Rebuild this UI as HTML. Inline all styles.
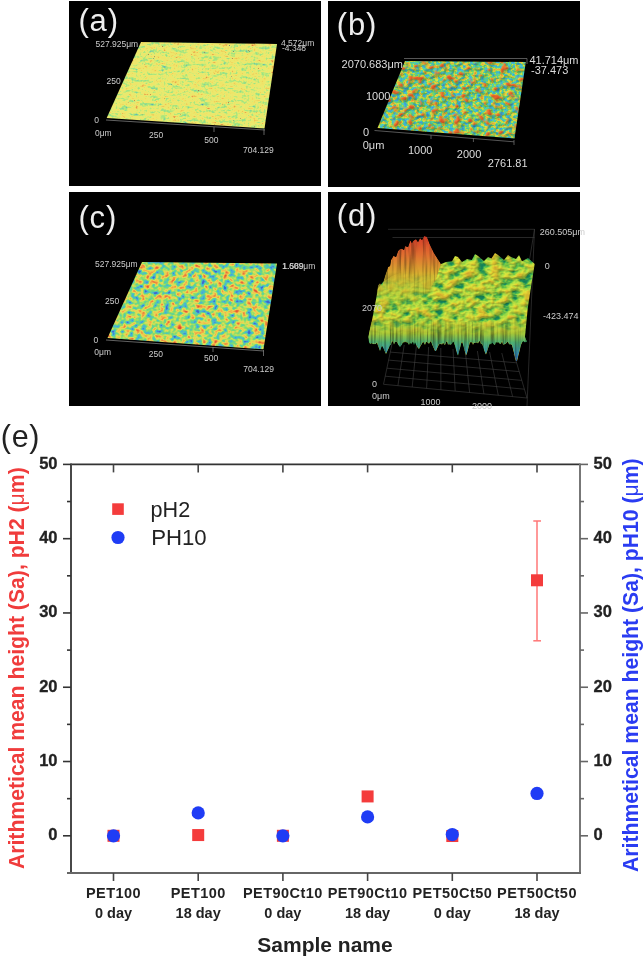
<!DOCTYPE html>
<html><head><meta charset="utf-8">
<style>
html,body{margin:0;padding:0;background:#fff;width:644px;height:959px;overflow:hidden}
svg{display:block;filter:blur(0.45px)}
text{font-family:"Liberation Sans",sans-serif}
</style></head><body>
<svg width="644" height="959" viewBox="0 0 644 959">
<defs>
<filter id="fa" x="0" y="0" width="1" height="1" color-interpolation-filters="sRGB">
<feTurbulence type="fractalNoise" baseFrequency="0.1 0.3" numOctaves="2" seed="7"/>
<feColorMatrix type="matrix" values="1 0 0 0 0  1 0 0 0 0  1 0 0 0 0  0 0 0 0 1" result="n1"/>
<feTurbulence type="fractalNoise" baseFrequency="0.5" numOctaves="1" seed="11"/>
<feColorMatrix type="matrix" values="1 0 0 0 0  1 0 0 0 0  1 0 0 0 0  0 0 0 0 1" result="n2"/>
<feComposite in="n1" in2="n2" operator="arithmetic" k2="0.6" k3="0.4" result="n"/>
<feColorMatrix in="n" type="matrix" values="1.176 0 0 0 -0.028  1.176 0 0 0 -0.028  1.176 0 0 0 -0.028  0 0 0 0 1"/>
<feComponentTransfer result="col"><feFuncR type="table" tableValues="0.251 0.255 0.260 0.264 0.268 0.273 0.277 0.281 0.322 0.371 0.420 0.469 0.518 0.567 0.605 0.629 0.653 0.676 0.714 0.773 0.831 0.875 0.918 0.922 0.925 0.929 0.933 0.937 0.941 0.941 0.941 0.941 0.929 0.913 0.897 0.882 0.837 0.784 0.732 0.680 0.627"/><feFuncG type="table" tableValues="0.314 0.331 0.349 0.366 0.383 0.401 0.418 0.436 0.518 0.616 0.714 0.776 0.816 0.855 0.882 0.889 0.897 0.905 0.911 0.914 0.918 0.918 0.918 0.914 0.910 0.906 0.902 0.898 0.894 0.860 0.825 0.791 0.728 0.657 0.587 0.516 0.450 0.384 0.319 0.254 0.188"/><feFuncB type="table" tableValues="0.439 0.465 0.492 0.518 0.544 0.570 0.596 0.622 0.643 0.663 0.682 0.661 0.612 0.563 0.529 0.517 0.505 0.493 0.481 0.468 0.455 0.447 0.439 0.434 0.429 0.424 0.418 0.413 0.408 0.388 0.369 0.349 0.333 0.317 0.301 0.285 0.256 0.224 0.191 0.158 0.125"/></feComponentTransfer>
<feTurbulence type="fractalNoise" baseFrequency="0.55" numOctaves="1" seed="21"/>
<feColorMatrix type="matrix" values="0 0 0 0 0.25  0 0 0 0 0.35  0 0 0 0 0.5  12 0 0 0 -9.1" result="dots"/>
<feTurbulence type="fractalNoise" baseFrequency="0.5" numOctaves="1" seed="33"/>
<feColorMatrix type="matrix" values="0 0 0 0 0.7  0 0 0 0 0.35  0 0 0 0 0.25  12 0 0 0 -9.4" result="dots2"/>
<feMerge><feMergeNode in="col"/><feMergeNode in="dots"/><feMergeNode in="dots2"/></feMerge>
<feGaussianBlur stdDeviation="0.45"/>
<feComposite in2="SourceAlpha" operator="in"/>
</filter>
<filter id="fb" x="0" y="0" width="1" height="1" color-interpolation-filters="sRGB">
<feTurbulence type="fractalNoise" baseFrequency="0.26 0.32" numOctaves="2" seed="3" result="n"/>
<feColorMatrix in="n" type="matrix" values="0.932 0 0 0 0.034  0.932 0 0 0 0.034  0.932 0 0 0 0.034  0 0 0 0 1" result="g"/>
<feComponentTransfer in="g" result="c"><feFuncR type="table" tableValues="0.220 0.222 0.225 0.227 0.230 0.233 0.235 0.238 0.241 0.243 0.246 0.248 0.251 0.251 0.251 0.251 0.269 0.291 0.314 0.361 0.408 0.512 0.617 0.688 0.737 0.786 0.824 0.843 0.863 0.878 0.878 0.878 0.878 0.878 0.878 0.878 0.878 0.878 0.878 0.878 0.878"/><feFuncG type="table" tableValues="0.471 0.484 0.497 0.510 0.523 0.536 0.549 0.562 0.575 0.588 0.601 0.614 0.627 0.657 0.686 0.716 0.731 0.742 0.753 0.769 0.784 0.797 0.810 0.813 0.808 0.803 0.782 0.738 0.694 0.655 0.639 0.622 0.605 0.588 0.571 0.555 0.538 0.521 0.504 0.487 0.471"/><feFuncB type="table" tableValues="0.722 0.727 0.732 0.737 0.742 0.748 0.753 0.758 0.763 0.769 0.774 0.779 0.784 0.775 0.765 0.755 0.699 0.632 0.565 0.471 0.376 0.337 0.298 0.276 0.267 0.257 0.247 0.237 0.227 0.219 0.216 0.213 0.211 0.208 0.205 0.202 0.199 0.197 0.194 0.191 0.188"/></feComponentTransfer>
<feTurbulence type="fractalNoise" baseFrequency="0.13 0.17" numOctaves="2" seed="8" result="nb"/>
<feColorMatrix in="nb" type="matrix" values="1 0 0 0 0  1 0 0 0 0  1 0 0 0 0  0 0 0 0 1" result="nbg"/>
<feComponentTransfer in="nbg" result="bc"><feFuncR type="table" tableValues="0.816 0.816 0.816 0.816 0.816 0.816 0.816 0.816 0.816 0.816 0.816 0.816 0.816 0.816 0.816 0.816 0.816 0.816 0.816 0.816 0.816 0.816 0.816 0.847 0.878 0.885 0.892 0.889 0.881 0.872 0.864 0.855 0.847 0.835 0.824 0.812 0.800 0.788 0.776 0.765 0.753"/><feFuncG type="table" tableValues="0.784 0.784 0.784 0.784 0.784 0.784 0.784 0.784 0.784 0.784 0.784 0.784 0.784 0.784 0.784 0.784 0.784 0.784 0.784 0.784 0.784 0.784 0.784 0.722 0.659 0.593 0.528 0.485 0.457 0.429 0.401 0.373 0.345 0.333 0.322 0.310 0.298 0.286 0.275 0.263 0.251"/><feFuncB type="table" tableValues="0.251 0.251 0.251 0.251 0.251 0.251 0.251 0.251 0.251 0.251 0.251 0.251 0.251 0.251 0.251 0.251 0.251 0.251 0.251 0.251 0.251 0.251 0.251 0.235 0.220 0.207 0.193 0.185 0.179 0.174 0.168 0.162 0.157 0.153 0.149 0.145 0.141 0.137 0.133 0.129 0.125"/></feComponentTransfer>
<feColorMatrix in="nb" type="matrix" values="0 0 0 0 0  0 0 0 0 0  0 0 0 0 0  6 0 0 0 -3.3" result="ba"/>
<feComposite in="bc" in2="ba" operator="in" result="blob"/>
<feMerge result="m"><feMergeNode in="c"/><feMergeNode in="blob"/></feMerge>
<feColorMatrix in="nb" type="matrix" values="0 0 0 0 0  0 0 0 0 0  0 0 0 0 0  2.5 0 0 0 -0.9" result="h"/>
<feDiffuseLighting in="h" surfaceScale="3" diffuseConstant="1" lighting-color="#fff" result="l">
<feDistantLight azimuth="225" elevation="55"/>
</feDiffuseLighting>
<feComposite in="m" in2="l" operator="arithmetic" k1="0.3" k2="0.8" result="s"/>
<feGaussianBlur stdDeviation="0.45"/>
<feComposite in2="SourceAlpha" operator="in"/>
</filter>
<filter id="fc" x="0" y="0" width="1" height="1" color-interpolation-filters="sRGB">
<feTurbulence type="fractalNoise" baseFrequency="0.17 0.2" numOctaves="2" seed="5" result="n"/>
<feColorMatrix in="n" type="matrix" values="0.847 0 0 0 0.076  0.847 0 0 0 0.076  0.847 0 0 0 0.076  0 0 0 0 1"/>
<feComponentTransfer><feFuncR type="table" tableValues="0.188 0.195 0.201 0.207 0.213 0.220 0.226 0.232 0.238 0.245 0.251 0.262 0.273 0.285 0.298 0.311 0.356 0.408 0.476 0.567 0.659 0.750 0.842 0.894 0.920 0.941 0.941 0.941 0.941 0.922 0.902 0.882 0.867 0.853 0.839 0.824 0.810 0.796 0.781 0.767 0.753"/><feFuncG type="table" tableValues="0.282 0.298 0.314 0.329 0.345 0.361 0.376 0.392 0.408 0.424 0.439 0.529 0.618 0.698 0.737 0.776 0.805 0.831 0.852 0.865 0.878 0.878 0.878 0.855 0.816 0.771 0.702 0.633 0.565 0.496 0.427 0.359 0.331 0.313 0.295 0.277 0.260 0.242 0.224 0.206 0.188"/><feFuncB type="table" tableValues="0.690 0.703 0.715 0.728 0.740 0.753 0.765 0.778 0.791 0.803 0.816 0.827 0.838 0.837 0.784 0.732 0.648 0.557 0.481 0.429 0.376 0.363 0.350 0.337 0.324 0.310 0.290 0.271 0.251 0.241 0.231 0.222 0.211 0.200 0.190 0.179 0.168 0.158 0.147 0.136 0.125"/></feComponentTransfer>
<feGaussianBlur stdDeviation="0.5"/>
<feComposite in2="SourceAlpha" operator="in"/>
</filter>
<filter id="fd" x="0" y="0" width="1" height="1" color-interpolation-filters="sRGB">
<feTurbulence type="fractalNoise" baseFrequency="0.09 0.14" numOctaves="3" seed="9" result="n"/>
<feColorMatrix in="n" type="matrix" values="0.975 0 0 0 0.053  0.975 0 0 0 0.053  0.975 0 0 0 0.053  0 0 0 0 1" result="g"/>
<feComponentTransfer in="g" result="c"><feFuncR type="table" tableValues="0.047 0.051 0.055 0.059 0.063 0.067 0.071 0.075 0.078 0.082 0.086 0.090 0.094 0.157 0.220 0.282 0.345 0.424 0.502 0.580 0.627 0.667 0.706 0.739 0.769 0.798 0.819 0.827 0.835 0.842 0.845 0.839 0.833 0.827 0.821 0.814 0.808 0.802 0.796 0.790 0.784"/><feFuncG type="table" tableValues="0.376 0.390 0.403 0.416 0.429 0.442 0.455 0.468 0.481 0.494 0.507 0.520 0.533 0.580 0.627 0.675 0.722 0.751 0.780 0.810 0.824 0.833 0.843 0.847 0.847 0.847 0.838 0.814 0.791 0.767 0.747 0.732 0.717 0.702 0.687 0.671 0.656 0.641 0.626 0.611 0.596"/><feFuncB type="table" tableValues="0.282 0.288 0.294 0.300 0.306 0.312 0.318 0.324 0.329 0.335 0.341 0.347 0.353 0.335 0.318 0.300 0.282 0.273 0.263 0.253 0.251 0.251 0.251 0.245 0.235 0.225 0.216 0.209 0.201 0.193 0.188 0.188 0.188 0.188 0.188 0.188 0.188 0.188 0.188 0.188 0.188"/></feComponentTransfer>
<feColorMatrix in="n" type="matrix" values="0 0 0 0 0  0 0 0 0 0  0 0 0 0 0  2.5 0 0 0 -0.75" result="h"/>
<feDiffuseLighting in="h" surfaceScale="3" diffuseConstant="1" lighting-color="#fff" result="l">
<feDistantLight azimuth="235" elevation="55"/>
</feDiffuseLighting>
<feComposite in="c" in2="l" operator="arithmetic" k1="0.35" k2="0.72" result="s"/>
<feGaussianBlur stdDeviation="0.4"/>
<feComposite in2="SourceAlpha" operator="in"/>
</filter>
<filter id="fw" x="0" y="0" width="1" height="1" color-interpolation-filters="sRGB">
<feTurbulence type="fractalNoise" baseFrequency="0.35 0.025" numOctaves="2" seed="4" result="n"/>
<feColorMatrix in="n" type="matrix" values="0.9 0 0 0 0.5  0.9 0 0 0 0.5  0.9 0 0 0 0.5  0 0 0 0 1" result="m"/>
<feComposite in="SourceGraphic" in2="m" operator="arithmetic" k1="1" result="s"/>
<feGaussianBlur stdDeviation="0.4"/>
<feComposite in2="SourceAlpha" operator="in"/>
</filter>
<linearGradient id="gr" gradientUnits="userSpaceOnUse" x1="0" y1="236" x2="0" y2="300">
<stop offset="0" stop-color="#d83c28"/>
<stop offset="0.3" stop-color="#e07030"/>
<stop offset="0.6" stop-color="#d8b030"/>
<stop offset="1" stop-color="#b8d038"/>
</linearGradient>
<linearGradient id="gc" gradientUnits="userSpaceOnUse" x1="0" y1="318" x2="0" y2="362">
<stop offset="0" stop-color="#c0d038"/>
<stop offset="0.35" stop-color="#a8c838"/>
<stop offset="0.55" stop-color="#50b070"/>
<stop offset="0.8" stop-color="#3898b8"/>
<stop offset="1" stop-color="#3870c8"/>
</linearGradient>
<filter id="fs" x="0" y="0" width="1" height="1" color-interpolation-filters="sRGB">
<feTurbulence type="fractalNoise" baseFrequency="0.45 0.02" numOctaves="2" seed="12" result="n"/>
<feColorMatrix in="n" type="matrix" values="1.1 0 0 0 0.35  1.1 0 0 0 0.35  1.1 0 0 0 0.35  0 0 0 0 1" result="m"/>
<feComposite in="SourceGraphic" in2="m" operator="arithmetic" k1="1" result="s"/>
<feGaussianBlur stdDeviation="0.35"/>
<feComposite in2="SourceAlpha" operator="in"/>
</filter>
<linearGradient id="gmc" gradientUnits="userSpaceOnUse" x1="0" y1="316" x2="0" y2="336">
<stop offset="0" stop-color="#000"/>
<stop offset="1" stop-color="#fff"/>
</linearGradient>
<mask id="mc" maskUnits="userSpaceOnUse" x="328" y="192" width="252" height="214"><rect x="328" y="192" width="252" height="214" fill="url(#gmc)"/></mask>
<linearGradient id="gmw" gradientUnits="userSpaceOnUse" x1="0" y1="272" x2="0" y2="312">
<stop offset="0" stop-color="#fff"/>
<stop offset="1" stop-color="#000"/>
</linearGradient>
<mask id="mw" maskUnits="userSpaceOnUse" x="328" y="192" width="252" height="214"><rect x="328" y="192" width="252" height="214" fill="url(#gmw)"/></mask>
<linearGradient id="gs" x1="0" y1="0" x2="0" y2="1">
<stop offset="0" stop-color="#a0c840"/>
<stop offset="0.45" stop-color="#30a888"/>
<stop offset="1" stop-color="#3878c8"/>
</linearGradient>
</defs>
<rect x="69" y="1" width="252" height="185" fill="#000"/>
<rect x="328" y="1" width="252" height="186" fill="#000"/>
<rect x="69" y="192" width="252" height="214" fill="#000"/>
<rect x="328" y="192" width="252" height="214" fill="#000"/>
<polygon points="141,42 277,43.9 264.5,128.5 106.7,118" fill="#fff" filter="url(#fa)"/>
<g stroke="#999" stroke-width="0.8" fill="none" opacity="0.8">
<line x1="106" y1="120" x2="265" y2="130"/>
<line x1="264" y1="129" x2="264" y2="135"/>
<line x1="214" y1="127" x2="214" y2="132"/>
</g>
<g font-size="8.5" fill="#ccc">
<text x="95.5" y="46.5">527.925μm</text>
<text x="106.5" y="84">250</text>
<text x="94.3" y="123">0</text>
<text x="95" y="136">0μm</text>
<text x="149" y="138">250</text>
<text x="204.3" y="143.4">500</text>
<text x="243" y="152.6">704.129</text>
<text x="281" y="46">4.572μm</text>
<text x="282" y="51">-4.348</text>
</g>
<polygon points="405,61 525.8,62 514.5,138.5 377.5,128" fill="#fff" filter="url(#fb)"/>
<g stroke="#888" stroke-width="0.8" fill="none" opacity="0.8">
<line x1="404" y1="58.5" x2="527" y2="58.5"/>
<line x1="527" y1="58.5" x2="527" y2="64"/>
<line x1="374.5" y1="130.5" x2="514" y2="141.8"/>
<line x1="514" y1="140" x2="514" y2="145"/>
<line x1="473.4" y1="138" x2="473.4" y2="142"/>
<line x1="431" y1="135" x2="431" y2="139"/>
</g>
<g font-size="11" fill="#ddd">
<text x="341.6" y="68.4">2070.683μm</text>
<text x="366" y="100">1000</text>
<text x="363" y="135.5">0</text>
<text x="362.7" y="149">0μm</text>
<text x="408" y="153.5">1000</text>
<text x="456.8" y="158">2000</text>
<text x="487.8" y="167.4">2761.81</text>
<text x="529.4" y="64.4">41.714μm</text>
<text x="531" y="73.6">-37.473</text>
</g>
<polygon points="142,262 277,263.6 263.5,349.3 107.5,338" fill="#fff" filter="url(#fc)"/>
<g stroke="#999" stroke-width="0.8" fill="none" opacity="0.8">
<line x1="106" y1="340" x2="264" y2="351"/>
<line x1="263.5" y1="350" x2="263.5" y2="356"/>
<line x1="213" y1="347" x2="213" y2="352"/>
</g>
<g font-size="8.5" fill="#ccc">
<text x="95" y="267">527.925μm</text>
<text x="105" y="303.5">250</text>
<text x="93.5" y="342.5">0</text>
<text x="94.3" y="355">0μm</text>
<text x="148.7" y="357.3">250</text>
<text x="204" y="361.3">500</text>
<text x="243.2" y="371.5">704.129</text>
<text x="282" y="269">1.609μm</text>
<text x="282.5" y="269">1.589</text>
</g>
<g stroke="#777" stroke-width="0.6" fill="none" opacity="0.55">
<line x1="388" y1="229.3" x2="534.5" y2="229.3"/>
<line x1="392.5" y1="237.5" x2="534.5" y2="237.5"/>
<line x1="534.5" y1="229" x2="527" y2="406"/>
<line x1="534.5" y1="229.3" x2="529" y2="263"/>
<line x1="383.5" y1="384.3" x2="527" y2="398"/>
<path d="M383.5 384.3L392.0 344.0 M397.9 385.7L404.2 345.0 M412.2 387.0L416.4 346.0 M426.6 388.4L428.6 347.0 M440.9 389.8L440.8 348.0 M455.2 391.1L453.0 349.0 M469.6 392.5L465.2 350.0 M483.9 393.9L477.4 351.0 M498.3 395.3L489.6 352.0 M512.6 396.6L501.8 353.0 M527.0 398.0L514.0 354.0 M385.2 376.2L524.4 389.2 M386.9 368.2L521.8 380.4 M388.6 360.1L519.2 371.6 M390.3 352.1L516.6 362.8"/>
</g>
<path d="M368.4,336.8 L372.6,317.2 L378.2,288 L383,282 L392,276 L402,272 L412,269 L424,267 L434,265 L441,264 L446,262 L452,261.3 L455,256 L458,257 L462,262 L467,259 L471.8,260 L475,254 L478,256 L484,261 L488,257 L491.4,258.5 L495,253 L498,255 L504,260 L508,255 L511,257 L516,259 L519,255 L522,261.3 L528,258 L534.7,264 L531.9,281 L527.7,308.8 L525,336.8 L527.0,341.9 L526.0,341.4 L525.0,342.6 L524.0,341.6 L523.0,341.3 L522.0,342.6 L521.0,345.0 L520.0,349.0 L519.0,353.0 L518.0,357.0 L517.0,361.0 L516.0,361.0 L515.0,357.0 L514.0,353.0 L513.0,349.0 L512.0,345.0 L511.0,344.3 L510.0,344.2 L509.0,344.2 L508.0,341.8 L507.0,342.2 L506.0,343.5 L505.0,343.9 L504.0,344.4 L503.0,344.5 L502.0,341.3 L501.0,343.4 L500.0,343.7 L499.0,343.0 L498.0,341.7 L497.0,342.9 L496.0,341.4 L495.0,344.7 L494.0,344.5 L493.0,343.2 L492.0,342.2 L491.0,344.6 L490.0,343.3 L489.0,345.4 L488.0,348.4 L487.0,351.4 L486.0,354.4 L485.0,352.6 L484.0,349.6 L483.0,346.6 L482.0,343.6 L481.0,344.3 L480.0,341.2 L479.0,341.2 L478.0,343.5 L477.0,342.1 L476.0,343.1 L475.0,342.9 L474.0,342.4 L473.0,345.0 L472.0,341.8 L471.0,342.7 L470.0,341.8 L469.0,345.7 L468.0,349.5 L467.0,353.3 L466.0,355.6 L465.0,351.8 L464.0,348.0 L463.0,344.6 L462.0,341.4 L461.0,344.1 L460.0,348.0 L459.0,351.8 L458.0,355.6 L457.0,353.3 L456.0,349.5 L455.0,345.7 L454.0,342.8 L453.0,341.2 L452.0,343.8 L451.0,344.6 L450.0,344.8 L449.0,343.9 L448.0,344.8 L447.0,341.1 L446.0,342.2 L445.0,344.9 L444.0,344.1 L443.0,342.6 L442.0,344.8 L441.0,343.5 L440.0,344.3 L439.0,344.1 L438.0,346.4 L437.0,348.6 L436.0,350.9 L435.0,350.9 L434.0,348.6 L433.0,346.4 L432.0,344.1 L431.0,341.2 L430.0,341.7 L429.0,344.1 L428.0,342.5 L427.0,342.2 L426.0,341.4 L425.0,344.9 L424.0,342.7 L423.0,341.8 L422.0,343.4 L421.0,345.2 L420.0,347.0 L419.0,348.9 L418.0,348.1 L417.0,346.3 L416.0,344.5 L415.0,342.0 L414.0,345.0 L413.0,341.5 L412.0,343.1 L411.0,344.1 L410.0,342.6 L409.0,345.0 L408.0,342.9 L407.0,342.0 L406.0,342.6 L405.0,341.1 L404.0,342.7 L403.0,342.0 L402.0,344.6 L401.0,345.7 L400.0,347.0 L399.0,345.7 L398.0,344.3 L397.0,342.0 L396.0,341.8 L395.0,341.9 L394.0,344.5 L393.0,341.6 L392.0,341.2 L391.0,344.7 L390.0,345.2 L389.0,347.4 L388.0,349.6 L387.0,351.8 L386.0,354.0 L385.0,351.8 L384.0,349.6 L383.0,347.4 L382.0,345.7 L381.0,348.3 L380.0,351.0 L379.0,348.3 L378.0,345.7 L377.0,342.3 L376.0,343.6 L375.0,344.2 L374.0,343.6 L373.0,344.3 L372.0,343.1 L371.0,343.6 L370.0,343.7 L369.0,342.1 L368.4,336.8 Z" fill="#fff" filter="url(#fd)"/>
<path d="M368.4,336.8 L371,322 L390,316 L420,318 L450,321 L480,322 L510,320 L526,318 L525,336.8 L527.0,341.9 L526.0,341.4 L525.0,342.6 L524.0,341.6 L523.0,341.3 L522.0,342.6 L521.0,345.0 L520.0,349.0 L519.0,353.0 L518.0,357.0 L517.0,361.0 L516.0,361.0 L515.0,357.0 L514.0,353.0 L513.0,349.0 L512.0,345.0 L511.0,344.3 L510.0,344.2 L509.0,344.2 L508.0,341.8 L507.0,342.2 L506.0,343.5 L505.0,343.9 L504.0,344.4 L503.0,344.5 L502.0,341.3 L501.0,343.4 L500.0,343.7 L499.0,343.0 L498.0,341.7 L497.0,342.9 L496.0,341.4 L495.0,344.7 L494.0,344.5 L493.0,343.2 L492.0,342.2 L491.0,344.6 L490.0,343.3 L489.0,345.4 L488.0,348.4 L487.0,351.4 L486.0,354.4 L485.0,352.6 L484.0,349.6 L483.0,346.6 L482.0,343.6 L481.0,344.3 L480.0,341.2 L479.0,341.2 L478.0,343.5 L477.0,342.1 L476.0,343.1 L475.0,342.9 L474.0,342.4 L473.0,345.0 L472.0,341.8 L471.0,342.7 L470.0,341.8 L469.0,345.7 L468.0,349.5 L467.0,353.3 L466.0,355.6 L465.0,351.8 L464.0,348.0 L463.0,344.6 L462.0,341.4 L461.0,344.1 L460.0,348.0 L459.0,351.8 L458.0,355.6 L457.0,353.3 L456.0,349.5 L455.0,345.7 L454.0,342.8 L453.0,341.2 L452.0,343.8 L451.0,344.6 L450.0,344.8 L449.0,343.9 L448.0,344.8 L447.0,341.1 L446.0,342.2 L445.0,344.9 L444.0,344.1 L443.0,342.6 L442.0,344.8 L441.0,343.5 L440.0,344.3 L439.0,344.1 L438.0,346.4 L437.0,348.6 L436.0,350.9 L435.0,350.9 L434.0,348.6 L433.0,346.4 L432.0,344.1 L431.0,341.2 L430.0,341.7 L429.0,344.1 L428.0,342.5 L427.0,342.2 L426.0,341.4 L425.0,344.9 L424.0,342.7 L423.0,341.8 L422.0,343.4 L421.0,345.2 L420.0,347.0 L419.0,348.9 L418.0,348.1 L417.0,346.3 L416.0,344.5 L415.0,342.0 L414.0,345.0 L413.0,341.5 L412.0,343.1 L411.0,344.1 L410.0,342.6 L409.0,345.0 L408.0,342.9 L407.0,342.0 L406.0,342.6 L405.0,341.1 L404.0,342.7 L403.0,342.0 L402.0,344.6 L401.0,345.7 L400.0,347.0 L399.0,345.7 L398.0,344.3 L397.0,342.0 L396.0,341.8 L395.0,341.9 L394.0,344.5 L393.0,341.6 L392.0,341.2 L391.0,344.7 L390.0,345.2 L389.0,347.4 L388.0,349.6 L387.0,351.8 L386.0,354.0 L385.0,351.8 L384.0,349.6 L383.0,347.4 L382.0,345.7 L381.0,348.3 L380.0,351.0 L379.0,348.3 L378.0,345.7 L377.0,342.3 L376.0,343.6 L375.0,344.2 L374.0,343.6 L373.0,344.3 L372.0,343.1 L371.0,343.6 L370.0,343.7 L369.0,342.1 Z" fill="url(#gc)" filter="url(#fs)" mask="url(#mc)"/>
<path d="M368.4,336.8 L372.6,317.2 L376,300 L377,290 L378.2,285.1 L380,283 L382,286 L385.2,275.3 L387,270 L388,267 L390,266 L391,260 L393.5,255.7 L396,257 L398,251 L400,249 L402,248.8 L404,250 L405,246 L408,247 L410.3,240.4 L412,243 L413,241 L416,239 L418,242 L420,238 L422,240 L424,236 L427,236.7 L429.9,244.6 L434,253 L441,264 L436,280 L428,292 L415,302 L400,312 L385,325 L376,338 Z" fill="url(#gr)" filter="url(#fw)" mask="url(#mw)"/>
<g font-size="9" fill="#ccc">
<text x="539.7" y="234.5">260.505μm</text>
<text x="544.8" y="268.5">0</text>
<text x="543" y="318.5">-423.474</text>
<text x="362" y="310.5">2070</text>
<text x="372" y="387">0</text>
<text x="372" y="399">0μm</text>
<text x="420.4" y="404.5">1000</text>
<text x="472" y="409">2000</text>
</g>
<g font-size="31" fill="#eee" letter-spacing="0.8">
<text x="78.5" y="31">(a)</text>
<text x="336.8" y="34.5">(b)</text>
<text x="78.5" y="228">(c)</text>
<text x="336.8" y="226">(d)</text>
</g>
<!-- chart -->
<text x="0.8" y="447" font-size="30.5" letter-spacing="0.7" fill="#222">(e)</text>
<g fill="none">
<line x1="71" y1="464.4" x2="580" y2="464.4" stroke="#333" stroke-width="1.6"/>
<line x1="71" y1="463.6" x2="71" y2="873" stroke="#484848" stroke-width="2"/>
<line x1="580" y1="463.5" x2="580" y2="873" stroke="#777" stroke-width="2"/>
<line x1="67" y1="873" x2="581" y2="873" stroke="#666" stroke-width="2"/>
</g>
<g stroke-width="1.6"><line x1="63" y1="835.80" x2="71" y2="835.80" stroke="#333"/><line x1="580" y1="835.80" x2="588" y2="835.80" stroke="#666"/><line x1="63" y1="761.52" x2="71" y2="761.52" stroke="#333"/><line x1="580" y1="761.52" x2="588" y2="761.52" stroke="#666"/><line x1="63" y1="687.24" x2="71" y2="687.24" stroke="#333"/><line x1="580" y1="687.24" x2="588" y2="687.24" stroke="#666"/><line x1="63" y1="612.96" x2="71" y2="612.96" stroke="#333"/><line x1="580" y1="612.96" x2="588" y2="612.96" stroke="#666"/><line x1="63" y1="538.68" x2="71" y2="538.68" stroke="#333"/><line x1="580" y1="538.68" x2="588" y2="538.68" stroke="#666"/><line x1="63" y1="464.40" x2="71" y2="464.40" stroke="#333"/><line x1="580" y1="464.40" x2="588" y2="464.40" stroke="#666"/><line x1="67" y1="798.66" x2="71" y2="798.66" stroke="#333"/><line x1="580" y1="798.66" x2="584" y2="798.66" stroke="#666"/><line x1="67" y1="724.38" x2="71" y2="724.38" stroke="#333"/><line x1="580" y1="724.38" x2="584" y2="724.38" stroke="#666"/><line x1="67" y1="650.10" x2="71" y2="650.10" stroke="#333"/><line x1="580" y1="650.10" x2="584" y2="650.10" stroke="#666"/><line x1="67" y1="575.82" x2="71" y2="575.82" stroke="#333"/><line x1="580" y1="575.82" x2="584" y2="575.82" stroke="#666"/><line x1="67" y1="501.54" x2="71" y2="501.54" stroke="#333"/><line x1="580" y1="501.54" x2="584" y2="501.54" stroke="#666"/><line x1="113.5" y1="873" x2="113.5" y2="881" stroke="#444"/><line x1="113.5" y1="464.4" x2="113.5" y2="472.4" stroke="#444"/><line x1="198.2" y1="873" x2="198.2" y2="881" stroke="#444"/><line x1="198.2" y1="464.4" x2="198.2" y2="472.4" stroke="#444"/><line x1="282.9" y1="873" x2="282.9" y2="881" stroke="#444"/><line x1="282.9" y1="464.4" x2="282.9" y2="472.4" stroke="#444"/><line x1="367.6" y1="873" x2="367.6" y2="881" stroke="#444"/><line x1="367.6" y1="464.4" x2="367.6" y2="472.4" stroke="#444"/><line x1="452.3" y1="873" x2="452.3" y2="881" stroke="#444"/><line x1="452.3" y1="464.4" x2="452.3" y2="472.4" stroke="#444"/><line x1="537.0" y1="873" x2="537.0" y2="881" stroke="#444"/><line x1="537.0" y1="464.4" x2="537.0" y2="472.4" stroke="#444"/></g>
<g font-size="16.5" font-weight="bold" fill="#222" stroke="#222" stroke-width="0.3"><text x="57.5" y="840.20" text-anchor="end">0</text><text x="593.5" y="840.20">0</text><text x="57.5" y="765.92" text-anchor="end">10</text><text x="593.5" y="765.92">10</text><text x="57.5" y="691.64" text-anchor="end">20</text><text x="593.5" y="691.64">20</text><text x="57.5" y="617.36" text-anchor="end">30</text><text x="593.5" y="617.36">30</text><text x="57.5" y="543.08" text-anchor="end">40</text><text x="593.5" y="543.08">40</text><text x="57.5" y="468.80" text-anchor="end">50</text><text x="593.5" y="468.80">50</text></g>
<g font-size="14.5" font-weight="bold" fill="#222"><text x="113.5" y="897.6" text-anchor="middle" letter-spacing="0.45">PET100</text><text x="113.5" y="917.6" text-anchor="middle">0 day</text><text x="198.2" y="897.6" text-anchor="middle" letter-spacing="0.45">PET100</text><text x="198.2" y="917.6" text-anchor="middle">18 day</text><text x="282.9" y="897.6" text-anchor="middle" letter-spacing="0.45">PET90Ct10</text><text x="282.9" y="917.6" text-anchor="middle">0 day</text><text x="367.6" y="897.6" text-anchor="middle" letter-spacing="0.45">PET90Ct10</text><text x="367.6" y="917.6" text-anchor="middle">18 day</text><text x="452.3" y="897.6" text-anchor="middle" letter-spacing="0.45">PET50Ct50</text><text x="452.3" y="917.6" text-anchor="middle">0 day</text><text x="537.0" y="897.6" text-anchor="middle" letter-spacing="0.45">PET50Ct50</text><text x="537.0" y="917.6" text-anchor="middle">18 day</text></g>
<text x="325" y="952" text-anchor="middle" font-size="21" font-weight="bold" fill="#222">Sample name</text>
<text transform="translate(23.8 668.2) rotate(-90) scale(1 1.07)" text-anchor="middle" font-size="21.2" font-weight="bold" fill="#f03c3c">Arithmetical mean height (Sa), pH2 (<tspan font-weight="normal">μ</tspan>m)</text>
<text transform="translate(637.8 665.2) rotate(-90) scale(1 1.08)" text-anchor="middle" font-size="21.2" font-weight="bold" fill="#2a3cf2">Arithmetical mean height (Sa), pH10 (<tspan font-weight="normal">μ</tspan>m)</text>
<rect x="112.2" y="503.3" width="11.6" height="11.6" fill="#f43c3c"/>
<circle cx="118" cy="537.5" r="6.6" fill="#1f3cf5"/>
<text x="150.6" y="516.5" font-size="21.6" fill="#222">pH2</text>
<text x="151.2" y="544.5" font-size="22.2" fill="#222">PH10</text>
<g stroke="#f77" stroke-width="1.5"><line x1="537.0" y1="521" x2="537.0" y2="640.8"/><line x1="533.3" y1="521" x2="541" y2="521"/><line x1="533.3" y1="640.8" x2="541" y2="640.8"/></g>
<rect x="107.50" y="829.80" width="12" height="12" fill="#f43c3c"/>
<rect x="192.20" y="829.06" width="12" height="12" fill="#f43c3c"/>
<rect x="276.90" y="829.80" width="12" height="12" fill="#f43c3c"/>
<rect x="361.60" y="790.43" width="12" height="12" fill="#f43c3c"/>
<rect x="446.30" y="830.02" width="12" height="12" fill="#f43c3c"/>
<rect x="531.00" y="574.28" width="12" height="12" fill="#f43c3c"/>
<circle cx="113.50" cy="835.80" r="6.6" fill="#1f3cf5"/>
<circle cx="198.20" cy="812.92" r="6.6" fill="#1f3cf5"/>
<circle cx="282.90" cy="835.80" r="6.6" fill="#1f3cf5"/>
<circle cx="367.60" cy="816.93" r="6.6" fill="#1f3cf5"/>
<circle cx="452.30" cy="834.54" r="6.6" fill="#1f3cf5"/>
<circle cx="537.00" cy="793.46" r="6.6" fill="#1f3cf5"/>
</svg>
</body></html>
